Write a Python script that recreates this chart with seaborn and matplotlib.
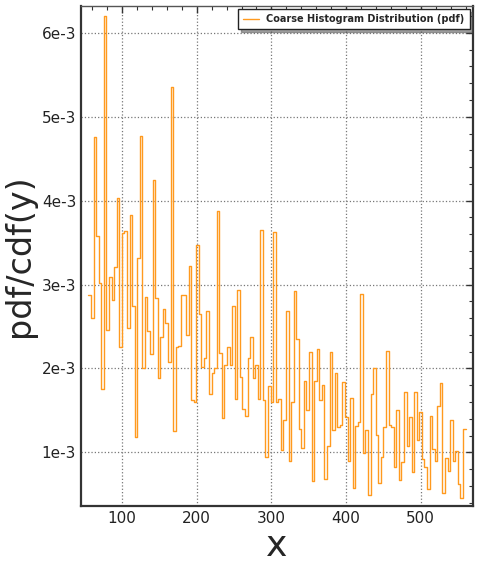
import numpy as np
import pandas as pd
import matplotlib
matplotlib.use("Agg")
import matplotlib.pyplot as plt
import seaborn as sns
from matplotlib.ticker import MultipleLocator, FuncFormatter

# pdf value of each coarse bin (units of 1e-3), read left to right
pdf_part1 = [2.88, 2.60, 4.76, 3.58, 3.02, 1.75, 6.20, 2.46, 3.09, 2.82, 3.21, 4.03,
             2.26, 3.61, 3.64, 2.48, 3.83, 2.74, 1.18, 3.32, 4.77, 2.00, 2.85, 2.45,
             2.17, 4.25, 2.84, 1.89, 2.38, 2.71, 2.54, 2.08, 5.35, 1.26, 2.25, 2.27,
             2.88, 2.87, 2.40, 3.22, 1.62, 1.60, 3.47]
pdf_part2 = [2.65, 2.02, 2.12, 2.69, 1.69, 1.95, 2.00, 3.88, 2.18, 1.41, 2.04, 2.25,
             2.04, 2.74, 1.63, 2.94, 1.90, 1.52, 1.43, 2.13, 2.37, 1.89, 2.04, 1.63,
             3.65, 1.62, 0.95, 1.79, 1.60, 3.63, 1.60, 1.63, 1.03, 1.38, 2.69, 0.90,
             1.60, 2.92, 2.35, 1.28, 1.05, 1.85, 1.50, 2.20, 0.66]
pdf_part3 = [1.85, 2.23, 1.62, 1.80, 0.68, 1.08, 2.19, 1.27, 1.95, 1.30, 1.33, 1.84,
             1.42, 0.90, 1.65, 0.58, 1.31, 1.36, 2.89, 0.99, 1.27, 0.49, 1.70, 2.01,
             1.21, 0.64, 0.94, 1.30, 2.21, 1.33, 1.30, 0.83, 1.51, 0.67, 0.88, 1.72,
             1.08, 1.42, 0.76, 1.72, 1.15, 1.48, 0.92, 0.82, 0.56, 1.43, 1.04, 0.90,
             1.55, 1.83, 0.51, 0.93]
pdf_part4 = [0.78, 1.38, 0.90, 1.02, 0.62, 0.45, 1.28]

x_start = 55.0
x_stop = 560.0
y_ticks = [1, 2, 3, 4, 5, 6]
legend_label = "Coarse Histogram Distribution (pdf)"


def build_frame():
    pdf = np.array(pdf_part1 + pdf_part2 + pdf_part3 + pdf_part4) * 1e-3
    width = (x_stop - x_start) / len(pdf)
    centers = x_start + width * (np.arange(len(pdf)) + 0.5)
    return pd.DataFrame({"x": centers, "pdf": pdf}), len(pdf)


def main():
    sns.set_theme(style="white")
    plt.rcParams["font.family"] = ["DejaVu Sans"]
    df, n_bins = build_frame()

    fig = plt.figure(figsize=(4.78, 5.64), dpi=100)
    ax = fig.add_axes([0.1695, 0.1028, 0.8200, 0.8866])

    sns.histplot(data=df, x="x", weights="pdf", bins=n_bins,
                 binrange=(x_start, x_stop), element="step", fill=False,
                 color="#ff9a1f", linewidth=1.0, ax=ax, label=legend_label)

    ax.set_xlim(45, 570)
    ax.set_ylim(0.36e-3, 6.32e-3)
    ax.xaxis.set_major_locator(MultipleLocator(100))
    ax.xaxis.set_minor_locator(MultipleLocator(20))
    ax.set_yticks([t * 1e-3 for t in y_ticks])
    ax.yaxis.set_minor_locator(MultipleLocator(0.2e-3))
    ax.yaxis.set_major_formatter(FuncFormatter(lambda v, p: f"{v * 1e3:.0f}e-3"))

    ax.grid(True, which="major", linestyle=":", color="#777777", linewidth=0.9)
    ax.tick_params(which="both", direction="in", top=True, right=True,
                   colors="#333333", labelcolor="#222222", labelsize=11)
    ax.tick_params(which="major", length=5, width=1)
    ax.tick_params(which="minor", length=3, width=0.8)
    for side in ["left", "bottom", "right"]:
        ax.spines[side].set_color("#333333")
        ax.spines[side].set_linewidth(1.6)
    ax.spines["top"].set_color("#555555")
    ax.spines["top"].set_linewidth(1.0)

    ax.set_xlabel("x", fontsize=26, labelpad=2)
    ax.set_ylabel("pdf/cdf(y)", fontsize=24, labelpad=4)

    leg = ax.legend(loc="upper right", frameon=True, shadow=True,
                    fancybox=False, borderpad=0.5, handlelength=1.6,
                    borderaxespad=0.35, prop={"weight": "bold", "size": 7.0})
    leg.get_frame().set_edgecolor("#222222")
    leg.get_frame().set_linewidth(1.0)

    fig.savefig("out.png", dpi=100)
    plt.close(fig)


if __name__ == "__main__":
    main()
